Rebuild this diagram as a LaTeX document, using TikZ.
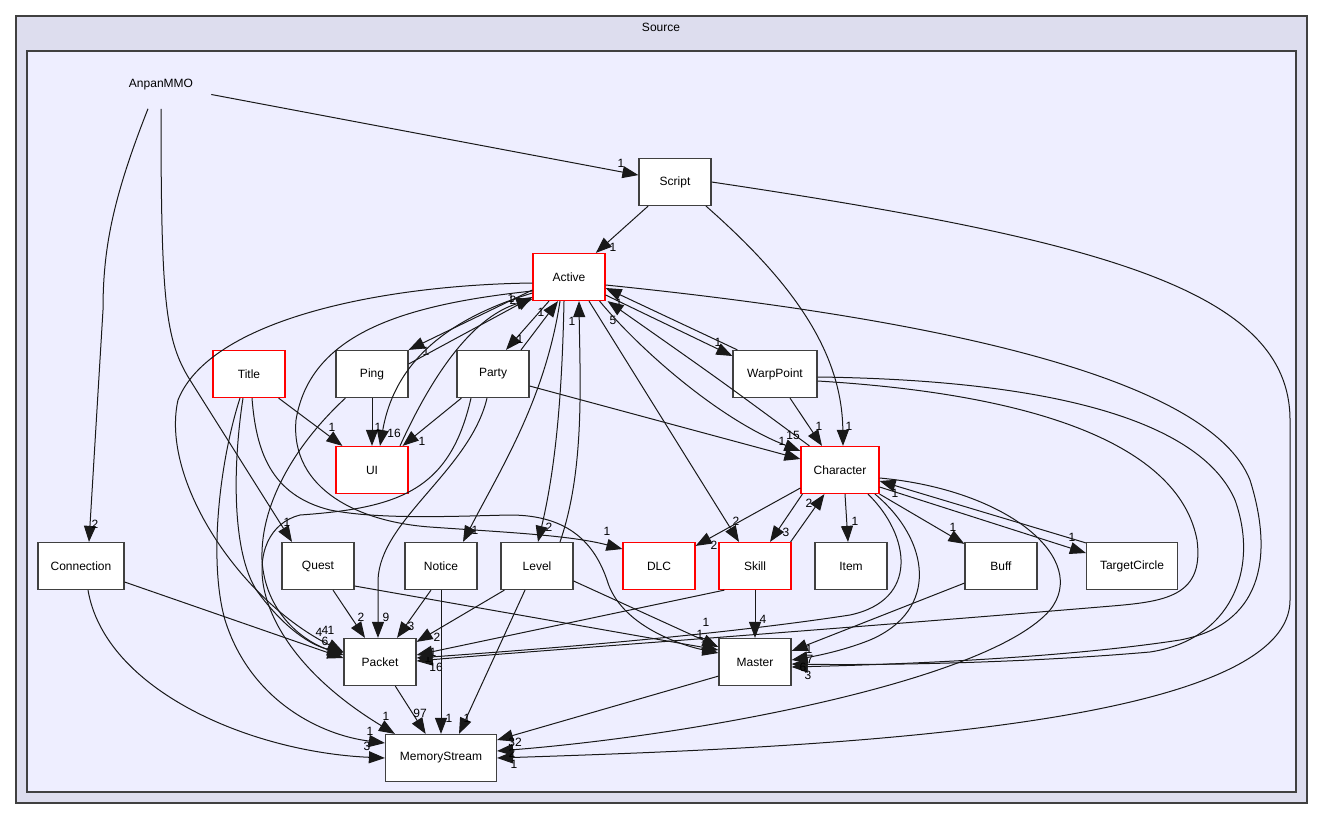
\documentclass[tikz,border=0pt]{standalone}
\usepackage{fontspec}
\setmainfont{Liberation Sans}
\usetikzlibrary{arrows.meta,calc}

\definecolor{outerfill}{RGB}{221,221,238}
\definecolor{innerfill}{RGB}{238,238,255}
\definecolor{frameline}{RGB}{64,64,64}

\tikzset{
  dirbox/.style={draw=frameline, fill=white, line width=0.9pt, minimum width=54pt, minimum height=35.25pt, inner sep=0pt, font=\fontsize{9}{10}\selectfont},
  reddir/.style={dirbox, draw=red},
  dep/.style={draw=black!90, line width=0.75pt, -{Triangle[length=12pt,width=9pt]}},
  cnt/.style={inner sep=0pt, font=\fontsize{9}{10}\selectfont},
}

\begin{document}
\begin{tikzpicture}[x=0.75pt,y=-0.75pt]
\useasboundingbox (0,0) rectangle (1323,820);
% frames
\draw[frameline, fill=outerfill, line width=0.9pt] (16,16) rectangle (1307,803);
\node[font=\fontsize{9}{10}\selectfont] (source) at (661,27) {Source};
\draw[frameline, fill=innerfill, line width=0.9pt] (27,51) rectangle (1296,792);

% directories
\node[minimum width=75pt, minimum height=35.25pt, inner sep=0pt, font=\fontsize{9}{10}\selectfont] (anpan) at (161,85) {AnpanMMO};
\node[dirbox] (script) at (675,182) {Script};
\node[reddir] (active) at (569,277) {Active};
\node[reddir] (title) at (249,374) {Title};
\node[dirbox] (ping) at (372,374) {Ping};
\node[dirbox] (party) at (493,374) {Party};
\node[dirbox, minimum width=63pt] (warp) at (775,374) {WarpPoint};
\node[reddir] (ui) at (372,470) {UI};
\node[reddir, minimum width=58.5pt] (character) at (840,470) {Character};
\node[dirbox, minimum width=64.5pt] (connection) at (81,566) {Connection};
\node[dirbox] (quest) at (318,566) {Quest};
\node[dirbox] (notice) at (441,566) {Notice};
\node[dirbox] (level) at (537,566) {Level};
\node[reddir] (dlc) at (659,566) {DLC};
\node[reddir] (skill) at (755,566) {Skill};
\node[dirbox] (item) at (851,566) {Item};
\node[dirbox] (buff) at (1001,566) {Buff};
\node[dirbox, minimum width=68.25pt] (target) at (1132,566) {TargetCircle};
\node[dirbox] (packet) at (380,662) {Packet};
\node[dirbox] (master) at (755,662) {Master};
\node[dirbox, minimum width=83.25pt] (memory) at (441,758) {MemoryStream};

% AnpanMMO
\draw[dep] (anpan) -- (script) node[cnt, at={(621,163)}] (c1) {1};
\draw[dep] ($(anpan.south)+(-13,0)$) .. controls (112,200) and (103,250) .. (103,310) -- ($(connection.north)+(8,0)$) node[cnt, at={(95,524)}] (c2) {2};
\draw[dep] (anpan.south) .. controls (161,300) and (165,340) .. (190,380) -- ($(quest.north)+(-26,0)$) node[cnt, at={(287,522)}] (c3) {1};

% Script
\draw[dep] (script) -- (active) node[cnt, at={(613,247)}] (c4) {1};
\draw[dep] ($(script.south)+(31,0)$) .. controls (790,280) and (842,350) .. ($(character.north)+(3,0)$) node[cnt, at={(849,426)}] (c5) {1};
\draw[dep] (script.east) .. controls (1100,240) and (1290,290) .. (1290,420) -- (1290,600) .. controls (1290,730) and (800,748) .. (memory.east) node[cnt, at={(514,764)}] (c6) {1};

% Active and its neighbours
\draw[dep] ($(active.west)+(0,13)$) -- (ping.north east) node[cnt, at={(426,351)}] (c7) {1};
\draw[dep] ($(ping.east)+(0,-10)$) -- ($(active.west)+(0,20)$) node[cnt, at={(511,298)}] (c8) {1};
\draw[dep] ($(ui.north)+(28,0)$) .. controls (430,380) and (470,318) .. ($(active.west)+(0,22)$) node[cnt, at={(513,300)}] (c9) {2};
\draw[dep] ($(active.west)+(0,16)$) .. controls (450,318) and (395,360) .. ($(ui.north)+(8,0)$) node[cnt, at={(394,433)}] (c10) {16};
\draw[dep] ($(active.south)+(-20,0)$) -- ($(party.north)+(13,0)$) node[cnt, at={(520,339)}] (c11) {1};
\draw[dep] ($(party.north)+(28,0)$) -- ($(active.south)+(-11,0)$) node[cnt, at={(541,312)}] (c12) {1};
\draw[dep] ($(active.south)+(-5,0)$) .. controls (562,400) and (555,470) .. ($(level.north)+(1,0)$) node[cnt, at={(549,527)}] (c13) {2};
\draw[dep] ($(level.north)+(23,0)$) .. controls (585,470) and (580,380) .. ($(active.south)+(10,0)$) node[cnt, at={(572,321)}] (c14) {1};
\draw[dep] ($(active.south)+(-9,0)$) .. controls (545,400) and (500,470) .. ($(notice.north)+(22,0)$) node[cnt, at={(475,530)}] (c15) {1};
\draw[dep] ($(active.south)+(20,0)$) -- ($(skill.north)+(-16,0)$) node[cnt, at={(736,521)}] (c16) {2};
\draw[dep] ($(active.east)+(0,18)$) -- ($(warp.west)+(0,-18)$) node[cnt, at={(718,342)}] (c17) {1};
\draw[dep] ($(warp.north west)+(5,0)$) -- ($(active.east)+(0,11)$) node[cnt, at={(619,303)}] (c18) {1};
\draw[dep] ($(character.north west)+(9,0)$) .. controls (720,380) .. ($(active.south east)+(2,0)$) node[cnt, at={(613,320)}] (c19) {5};
\draw[dep] ($(active.south east)+(-6,0)$) .. controls (640,350) and (720,420) .. ($(character.west)+(0,-19)$) node[cnt, at={(793,435)}] (c20) {15};
\draw[dep] ($(party.east)+(0,12)$) -- ($(character.west)+(0,-11)$) node[cnt, at={(782,441)}] (c21) {1};
\draw[dep] ($(active.west)+(0,6)$) .. controls (380,285) and (210,320) .. (178,400) .. controls (160,480) and (240,600) .. ($(packet.west)+(0,-10)$) node[cnt, at={(331,630)}] (c22) {1};
\draw[dep] ($(active.west)+(0,14)$) .. controls (400,305) and (310,335) .. (296,420) .. controls (290,490) and (360,522) .. (430,527) .. controls (500,532) and (570,535) .. ($(dlc.west)+(0,-17)$) node[cnt, at={(607,531)}] (c23) {1};
\draw[dep] ($(active.east)+(0,8)$) .. controls (950,320) and (1210,380) .. (1250,480) .. controls (1275,560) and (1260,625) .. (1180,640) .. controls (1050,660) and (870,665) .. ($(master.east)+(0,5)$) node[cnt, at={(810,659)}] (c24) {7};

% Title
\draw[dep] ($(title.south east)+(-7,0)$) -- ($(ui.north west)+(7,0)$) node[cnt, at={(332,427)}] (c25) {1};
\draw[dep] ($(title.south)+(-6,0)$) .. controls (232,470) and (232,560) .. (260,595) .. controls (285,628) and (310,645) .. ($(packet.west)+(0,-9)$) node[cnt, at={(325,641)}] (c26) {6};
\draw[dep] ($(title.south)+(-9,0)$) .. controls (220,460) and (208,560) .. (225,620) .. controls (250,700) and (320,735) .. ($(memory.west)+(0,-15)$) node[cnt, at={(370,731)}] (c27) {1};
\draw[dep] ($(title.south)+(3,0)$) .. controls (256,450) and (270,495) .. (330,510) .. controls (380,520) and (460,516) .. (510,515) .. controls (570,515) and (595,545) .. (607,580) .. controls (620,625) and (680,645) .. ($(master.west)+(0,-9)$) node[cnt, at={(704,645)}] (c28) {1};

% Ping and Party
\draw[dep] (ping) -- (ui) node[cnt, at={(378,427)}] (c29) {1};
\draw[dep] ($(ping.south west)+(10,0)$) .. controls (300,440) and (260,500) .. (262,560) .. controls (265,610) and (300,640) .. ($(packet.west)+(0,-7)$) node[cnt, at={(319,632)}] (c30) {4};
\draw[dep] ($(party.south west)+(5,0)$) -- ($(ui.north east)+(-6,0)$) node[cnt, at={(422,441)}] (c31) {1};
\draw[dep] ($(party.south)+(-6,0)$) .. controls (470,470) and (380,520) .. (378,580) -- ($(packet.north)+(-2,0)$) node[cnt, at={(386,617)}] (c32) {9};
\draw[dep] ($(party.south)+(-22,0)$) .. controls (450,490) and (400,508) .. (300,515) .. controls (240,530) and (240,640) .. ($(memory.north west)+(10,0)$) node[cnt, at={(386,716)}] (c33) {1};

% WarpPoint
\draw[dep] ($(warp.south)+(15,0)$) -- ($(character.north)+(-18,0)$) node[cnt, at={(819,426)}] (c34) {1};
\draw[dep] ($(warp.east)+(0,3)$) .. controls (1050,380) and (1200,420) .. (1235,500) .. controls (1260,570) and (1230,640) .. (1150,652) .. controls (1000,665) and (850,665) .. ($(master.east)+(0,2)$) node[cnt, at={(808,675)}] (c35) {3};
\draw[dep] ($(warp.east)+(0,7)$) .. controls (1050,395) and (1180,450) .. (1197,540) .. controls (1205,600) and (1160,602) .. (1100,607) .. controls (800,632) and (520,652) .. ($(packet.east)+(0,-1)$) node[cnt, at={(433,652)}] (c36) {1};

% Character
\draw[dep] ($(character.south)+(5,0)$) -- ($(item.north)+(-3,0)$) node[cnt, at={(855,521)}] (c37) {1};
\draw[dep] (character.south east) -- ($(buff.north west)+(0,2)$) node[cnt, at={(953,527)}] (c38) {1};
\draw[dep] ($(character.east)+(0,17)$) -- ($(target.west)+(0,-13)$) node[cnt, at={(1072,537)}] (c39) {1};
\draw[dep] ($(target.north west)+(0,1)$) -- ($(character.east)+(0,11)$) node[cnt, at={(895,493)}] (c40) {1};
\draw[dep] ($(character.south west)+(2,0)$) -- ($(skill.north)+(15,0)$) node[cnt, at={(786,532)}] (c41) {3};
\draw[dep] ($(skill.north east)+(-1,0)$) -- ($(character.south west)+(24,0)$) node[cnt, at={(809,503)}] (c42) {2};
\draw[dep] ($(character.west)+(0,18)$) -- ($(dlc.north east)+(0,4)$) node[cnt, at={(714,545)}] (c43) {2};
\draw[dep] ($(character.south)+(35,0)$) .. controls (930,540) and (940,610) .. (870,640) .. controls (840,652) and (810,657) .. ($(master.east)+(0,-2)$) node[cnt, at={(803,667)}] (c44) {6};
\draw[dep] ($(character.south)+(28,0)$) .. controls (910,535) and (920,600) .. (850,615) .. controls (700,638) and (500,652) .. ($(packet.east)+(0,-4)$) node[cnt, at={(428,658)}] (c45) {1};
\draw[dep] ($(character.east)+(0,8)$) .. controls (1010,490) and (1090,560) .. (1050,610) .. controls (990,680) and (700,735) .. ($(memory.east)+(0,-7)$) node[cnt, at={(512,753)}] (c46) {2};

% Skill, Buff
\draw[dep] ($(skill.south west)+(6,0)$) -- ($(packet.east)+(0,-7)$) node[cnt, at={(436,667)}] (c47) {16};
\draw[dep] (skill) -- (master) node[cnt, at={(763,619)}] (c48) {4};
\draw[dep] ($(buff.south west)+(0,-7)$) -- ($(master.east)+(0,-11)$) node[cnt, at={(809,649)}] (c49) {1};

% lower row
\draw[dep] ($(connection.east)+(0,16)$) -- ($(packet.west)+(0,-4)$) node[cnt, at={(325,630)}] (c50) {4};
\draw[dep] ($(connection.south)+(7,0)$) .. controls (105,690) and (250,752) .. (memory.west) node[cnt, at={(367,746)}] (c51) {3};
\draw[dep] ($(quest.south)+(15,0)$) -- ($(packet.north)+(-15,0)$) node[cnt, at={(361,617)}] (c52) {2};
\draw[dep] ($(quest.east)+(0,20)$) -- ($(master.west)+(0,-12)$) node[cnt, at={(700,634)}] (c53) {1};
\draw[dep] ($(notice.south)+(-10,0)$) -- ($(packet.north)+(17,0)$) node[cnt, at={(411,626)}] (c54) {3};
\draw[dep] (notice) -- (memory) node[cnt, at={(449,718)}] (c55) {1};
\draw[dep] ($(level.south west)+(4,0)$) -- ($(packet.north east)+(0,4)$) node[cnt, at={(437,637)}] (c56) {2};
\draw[dep] ($(level.east)+(0,15)$) -- ($(master.west)+(0,-15)$) node[cnt, at={(706,622)}] (c57) {1};
\draw[dep] ($(level.south)+(-12,0)$) -- ($(memory.north)+(18,0)$) node[cnt, at={(467,718)}] (c58) {1};
\draw[dep] (packet) -- (memory) node[cnt, at={(420,713)}] (c59) {97};
\draw[dep] ($(master.south west)+(0,-10)$) -- ($(memory.east)+(0,-18)$) node[cnt, at={(515,742)}] (c60) {32};
\end{tikzpicture}
\end{document}
